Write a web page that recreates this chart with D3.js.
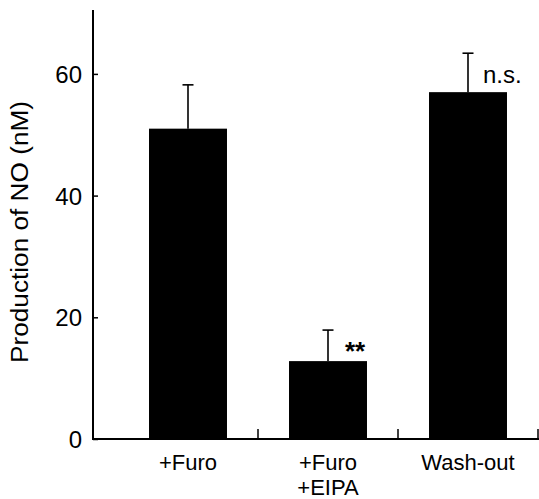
<!DOCTYPE html>
<html>
<head>
<meta charset="utf-8">
<script src="https://cdn.jsdelivr.net/npm/d3@7/dist/d3.min.js"></script>
<style>
  html, body { margin: 0; padding: 0; background: #fff; }
  svg { display: block; font-family: "Liberation Sans", Arial, Helvetica, sans-serif; }
</style>
</head>
<body>
<svg id="chart" width="539" height="499"></svg>
<script>
const categories = ["+Furo", "+Furo\n+EIPA", "Wash-out"];
const means = [51.0, 12.8, 57.0];
const errors = [7.2, 5.1, 6.4];
const significance = ["", "**", "n.s."];
const yTicks = [0, 20, 40, 60];

const svg = d3.select("#chart");
const x0 = 93, yBottom = 439, yTopPx = 10;

const y = d3.scaleLinear().domain([0, 70.5]).range([yBottom, yTopPx]);
const x = d3.scaleBand().domain(categories).range([118, 538]).paddingInner(0.443).paddingOuter(0.2215);

// bars
svg.selectAll("rect.bar").data(categories).enter().append("rect")
  .attr("x", d => x(d)).attr("width", x.bandwidth())
  .attr("y", (d, i) => y(means[i]))
  .attr("height", (d, i) => y(0) - y(means[i]))
  .attr("fill", "#000");

// error bars
const cap = 5.5;
categories.forEach((c, i) => {
  const cx = x(c) + x.bandwidth() / 2;
  svg.append("line").attr("x1", cx).attr("x2", cx)
    .attr("y1", y(means[i])).attr("y2", y(means[i] + errors[i]))
    .attr("stroke", "#000").attr("stroke-width", 1.6);
  svg.append("line").attr("x1", cx - cap).attr("x2", cx + cap)
    .attr("y1", y(means[i] + errors[i])).attr("y2", y(means[i] + errors[i]))
    .attr("stroke", "#000").attr("stroke-width", 1.6);
  if (significance[i]) {
    const isStar = significance[i] === "**";
    svg.append("text")
      .attr("x", cx + (isStar ? 17 : 15))
      .attr("y", isStar ? y(means[i]) - 1 : 82.5)
      .attr("font-size", isStar ? 26 : 24)
      .attr("font-weight", isStar ? "bold" : "normal")
      .text(significance[i]);
  }
});

// y axis
const yAxis = d3.axisRight(y).tickValues(yTicks).tickSize(5).tickFormat(d3.format("d"));
const gy = svg.append("g").attr("transform", `translate(${x0},0)`).call(yAxis);
gy.select(".domain").remove();
gy.selectAll(".tick line").attr("stroke", "#000").attr("stroke-width", 1.5);
gy.selectAll(".tick text").attr("x", -11).attr("text-anchor", "end")
  .attr("font-size", 24).attr("fill", "#000").attr("dy", "0.36em");
svg.append("line").attr("x1", x0).attr("x2", x0).attr("y1", yTopPx).attr("y2", yBottom + 1)
  .attr("stroke", "#000").attr("stroke-width", 2);

// x axis
svg.append("line").attr("x1", x0 - 1).attr("x2", 539).attr("y1", yBottom).attr("y2", yBottom)
  .attr("stroke", "#000").attr("stroke-width", 2);
const sepTicks = categories.map(c => x(c) + x.bandwidth() / 2 + x.step() / 2);
svg.selectAll("line.sep").data(sepTicks).enter().append("line")
  .attr("x1", d => d).attr("x2", d => d).attr("y1", yBottom).attr("y2", yBottom - 10)
  .attr("stroke", "#000").attr("stroke-width", 1.5);

// x labels
categories.forEach(c => {
  const cx = x(c) + x.bandwidth() / 2;
  const t = svg.append("text").attr("text-anchor", "middle").attr("font-size", 22).attr("fill", "#000");
  c.split("\n").forEach((line, j) => {
    t.append("tspan").attr("x", cx).attr("y", 470 + j * 25).text(line);
  });
});

// y label
svg.append("text")
  .attr("transform", "translate(28,232) rotate(-90)")
  .attr("text-anchor", "middle").attr("font-size", 23).attr("fill", "#000")
  .attr("textLength", 262).attr("lengthAdjust", "spacingAndGlyphs")
  .text("Production of NO (nM)");
</script>
</body>
</html>
